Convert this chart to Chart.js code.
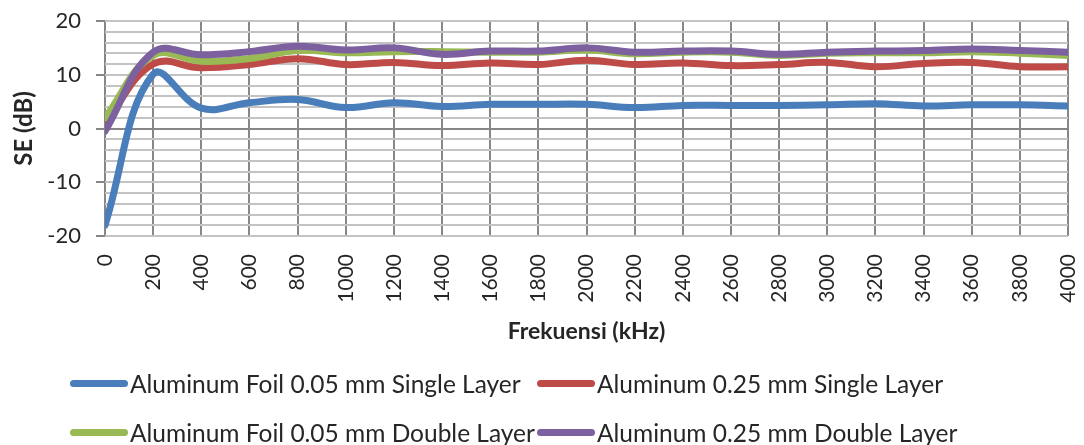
<!DOCTYPE html>
<html>
<head>
<meta charset="utf-8">
<script src="https://cdn.jsdelivr.net/npm/chart.js@4"></script>
<style>
  html, body { margin: 0; padding: 0; background: #fff; }
  #wrap { position: relative; width: 1084px; height: 445px; overflow: hidden; }
  #legend { position: absolute; left: 0; top: 0; width: 1084px; height: 445px; pointer-events: none;
            font-family: Lato, "Liberation Sans", sans-serif; font-size: 24.5px; color: #262626; }
  .item { position: absolute; display: flex; align-items: center; height: 30px; white-space: nowrap; }
  .sw { width: 58px; height: 7px; border-radius: 4px; margin-right: 2px; }
</style>
</head>
<body>
<div id="wrap">
  <canvas id="c" width="1084" height="445"></canvas>
  <div id="legend"></div>
</div>
<script>
const frequencies = [0, 200, 400, 600, 800, 1000, 1200, 1400, 1600, 1800, 2000, 2200, 2400, 2600, 2800, 3000, 3200, 3400, 3600, 3800, 4000];
const foilSingle   = [-18, 10.1, 3.8, 4.8, 5.4, 3.9, 4.8, 4.1, 4.5, 4.5, 4.5, 3.9, 4.3, 4.3, 4.3, 4.4, 4.6, 4.2, 4.4, 4.4, 4.2];
const alSingle     = [1, 12, 11.3, 11.9, 13, 11.9, 12.3, 11.7, 12.2, 11.9, 12.7, 11.9, 12.2, 11.7, 11.9, 12.3, 11.5, 12.1, 12.3, 11.5, 11.5];
const foilDouble   = [2, 13.6, 12.5, 13, 14.5, 14.1, 14.3, 14.3, 14.2, 14.2, 14.6, 13.9, 14.2, 14.2, 13.6, 14, 14.1, 14.1, 14.3, 14, 13.6];
const alDouble     = [-0.5, 14.2, 13.7, 14.3, 15.3, 14.6, 15, 13.8, 14.4, 14.4, 15, 14.2, 14.4, 14.4, 13.8, 14.2, 14.4, 14.5, 14.8, 14.5, 14.2];
const seriesNames  = ["Aluminum Foil 0.05 mm Single Layer", "Aluminum 0.25 mm Single Layer", "Aluminum Foil 0.05 mm Double Layer", "Aluminum 0.25 mm Double Layer"];
const seriesColors = ["#4a7ebb", "#be4b48", "#98b954", "#7d60a0"];
const xTicks = [0, 200, 400, 600, 800, 1000, 1200, 1400, 1600, 1800, 2000, 2200, 2400, 2600, 2800, 3000, 3200, 3400, 3600, 3800, 4000];
const yLabelTicks = [-20, -10, 0, 10, 20];

const seriesValues = [foilSingle, alSingle, foilDouble, alDouble];
const drawOrder = [3, 2, 1, 0];

const FONT = "Lato, 'Liberation Sans', sans-serif";
const datasets = seriesValues.map((vals, i) => ({
  label: seriesNames[i],
  data: vals.map((v, k) => ({ x: frequencies[k], y: v })),
  borderColor: seriesColors[i],
  backgroundColor: seriesColors[i],
  borderWidth: 7,
  pointRadius: 0,
  tension: 0.4,
  borderCapStyle: 'round',
  borderJoinStyle: 'round',
  fill: false,
  order: drawOrder[i]
}));

new Chart(document.getElementById('c'), {
  type: 'line',
  data: { datasets },
  options: {
    responsive: false,
    animation: false,
    devicePixelRatio: 1,
    layout: { padding: { left: 0, right: 16, top: 21, bottom: 99 } },
    plugins: { legend: { display: false }, tooltip: { enabled: false } },
    scales: {
      x: {
        type: 'linear',
        min: 0, max: 4000,
        afterBuildTicks: (s) => { s.ticks = xTicks.map(v => ({ value: v })); },
        afterFit: (s) => { s.height = 110; s.paddingLeft = 0; s.paddingRight = 0; },
        grid: { color: '#878787', lineWidth: 2, drawTicks: false },
        border: { display: false },
        ticks: {
          minRotation: 90, maxRotation: 90, padding: 18, autoSkip: false,
          color: '#262626',
          font: { family: FONT, size: 21 },
          callback: (v) => String(v)
        },
        title: {
          display: true, text: 'Frekuensi (kHz)', color: '#262626',
          font: { family: FONT, size: 23, weight: 'bold' },
          padding: { top: 0, bottom: 1 }
        }
      },
      y: {
        min: -20, max: 20,
        ticks: {
          stepSize: 2, autoSkip: false, color: '#262626', padding: 15,
          font: { family: FONT, size: 22 },
          callback: (v) => yLabelTicks.includes(v) ? String(v) : ''
        },
        afterFit: (s) => { s.width = 105; s.paddingTop = 0; s.paddingBottom = 0; },
        grid: {
          color: (ctx) => ctx.tick && ctx.tick.value === 0 ? '#868686' : '#c3c3c3',
          lineWidth: 2,
          tickLength: 9,
          tickColor: (ctx) => ctx.tick && yLabelTicks.includes(ctx.tick.value) ? '#868686' : 'rgba(0,0,0,0)'
        },
        border: { display: false },
        title: {
          display: true, text: 'SE (dB)', color: '#262626',
          font: { family: FONT, size: 24, weight: 'bold' },
          padding: { top: 10, bottom: 0 }
        }
      }
    }
  }
});

// HTML legend in Excel-like 2x2 grid
const legendPos = [
  { left: 70, top: 368 }, { left: 537, top: 368 },
  { left: 70, top: 417 }, { left: 537, top: 417 }
];
const legend = document.getElementById('legend');
seriesNames.forEach((name, i) => {
  const d = document.createElement('div');
  d.className = 'item';
  d.style.left = legendPos[i].left + 'px';
  d.style.top = legendPos[i].top + 'px';
  const sw = document.createElement('span');
  sw.className = 'sw';
  sw.style.background = seriesColors[i];
  const t = document.createElement('span');
  t.textContent = name;
  d.appendChild(sw); d.appendChild(t);
  legend.appendChild(d);
});
</script>
</body>
</html>
